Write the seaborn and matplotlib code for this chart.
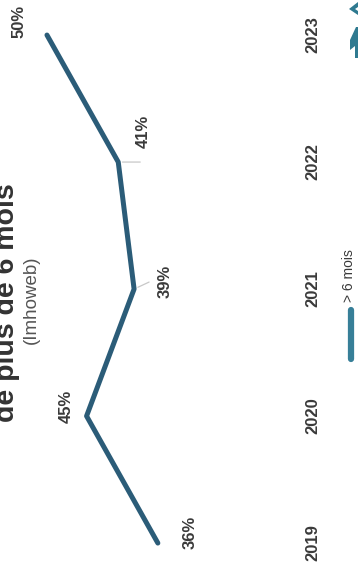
import matplotlib

matplotlib.use("Agg")

import matplotlib.pyplot as plt
import seaborn as sns
from matplotlib.patches import Polygon

# chart is drawn turned a quarter turn counter-clockwise, like the reference scan
years = [2019, 2020, 2021, 2022, 2023]
year_labels = ["2019", "2020", "2021", "2022", "2023"]
share = [36, 45, 39, 41, 50]
share_labels = ["36%", "45%", "39%", "41%", "50%"]
series_name = "> 6 mois"
title = "de plus de 6 mois"
subtitle = "(Imhoweb)"

LINE_COLOR = "#2b5c78"
KEY_COLOR = "#377f98"
LOGO_COLOR = "#2f7a90"
TEXT_COLOR = "#3a3a3a"

W, H = 358, 571

# label offsets in pixels (x, y) from each point
label_offsets = [(37, 11), (-16, 10), (36, 8), (29, 31), (-23, 14)]
leader_offsets = {2: (15, 7), 3: (22, 0)}


def px(points):
    # image pixels (from top-left) -> axes fraction
    return [(x / W, 1 - y / H) for x, y in points]


sns.set_theme(style="white")
plt.rcParams["font.family"] = ["Liberation Sans", "DejaVu Sans"]

fig = plt.figure(figsize=(W / 100, H / 100), dpi=100)
ax = fig.add_axes([0, 0, 1, 1])
ax.set_xlim(55.93, 10.73)
ax.set_ylim(2018.78, 2023.276)
ax.axis("off")

sns.lineplot(x=share, y=years, orient="y", sort=False, color=LINE_COLOR, lw=3.6,
             solid_capstyle="round", solid_joinstyle="round", ax=ax)

for i, (v, yr, lab) in enumerate(zip(share, years, share_labels)):
    if i in leader_offsets:
        ax.annotate("", xy=(v, yr), xytext=leader_offsets[i], textcoords="offset pixels",
                    arrowprops=dict(arrowstyle="-", color="#c8c8c8", lw=0.9, shrinkA=0, shrinkB=3))
    ax.annotate(lab, xy=(v, yr), xytext=label_offsets[i], textcoords="offset pixels",
                rotation=90, rotation_mode="anchor", ha="center", va="baseline",
                fontsize=12, fontweight="bold", color=TEXT_COLOR)

# year labels along the (rotated) category axis
trans = ax.get_yaxis_transform()
for yr, lab in zip(years, year_labels):
    ax.text(0.8855, yr, lab, transform=trans, rotation=90, rotation_mode="anchor",
            ha="center", va="baseline", fontsize=12, fontweight="bold", color=TEXT_COLOR)

# title and source, cut at the left edge as in the scan
ax.text(0.039, 0.4694, title, transform=ax.transAxes, rotation=90, rotation_mode="anchor",
        ha="center", va="baseline", fontsize=20.5, fontweight="bold", color="#333333")
ax.text(0.1006, 0.4746, subtitle, transform=ax.transAxes, rotation=90, rotation_mode="anchor",
        ha="center", va="baseline", fontsize=13.5, color="#555555")

# legend key
ax.plot([0.980, 0.980], [0.457, 0.372], transform=ax.transAxes, color=KEY_COLOR, lw=4.5,
        solid_capstyle="round")
ax.text(0.986, 0.517, series_name, transform=ax.transAxes, rotation=90, rotation_mode="anchor",
        ha="center", va="baseline", fontsize=10, color=TEXT_COLOR)

# bit of logo cut at the top-right corner
for shape in ([(349, 9), (358, 2), (358, 7), (355, 9), (358, 11), (358, 15)],
              [(350, 40), (356, 27), (358, 27), (358, 58), (355, 58), (355, 46), (350, 50)]):
    ax.add_patch(Polygon(px(shape), closed=True, transform=ax.transAxes,
                         facecolor=LOGO_COLOR, edgecolor="none", clip_on=False))

fig.savefig("out.png", dpi=100)
plt.close(fig)
